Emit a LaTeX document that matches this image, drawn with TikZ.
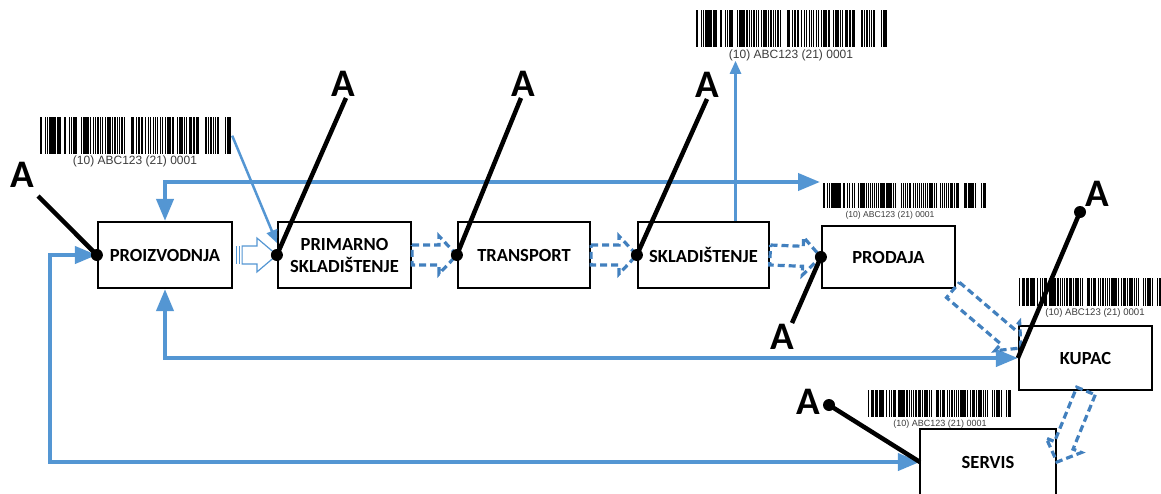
\documentclass[tikz,border=0pt]{standalone}
\usepackage{fontspec}
\setmainfont{Carlito}
\newfontfamily\arialf{Liberation Sans}
\usetikzlibrary{arrows.meta,calc}
\definecolor{lblue}{RGB}{84,150,211}
\definecolor{dblue}{RGB}{66,128,190}
\definecolor{bctext}{RGB}{60,60,60}

\newcommand\mkbarcode[5]{% name, cx, top y, width, height
  \node[minimum width=#4pt, minimum height=#5pt, inner sep=0pt, anchor=north] (#1) at (#2,#3) {};
  \pgfmathsetmacro\bcmod{#4/80}%
  \foreach \i in {0,...,79}{%
    \pgfmathtruncatemacro\hh{mod(mod(\i*\i,211)*53+\i*17+7,211)}%
    \pgfmathtruncatemacro\k{mod(\hh,4)}%
    \pgfmathtruncatemacro\s{mod(\hh,11)}%
    \ifnum\s>0
      \fill ($(#1.north west)+({\i*\bcmod},0)$) rectangle ++({\bcmod*(0.35+0.19*\k)},#5);
    \fi
  }
}
\newcommand\blockarrow[6][]{% style, from, to, shaft half, head half, head length
  \path let \p1=($(#3)-(#2)$) in \pgfextra{%
    \pgfmathparse{atan2(\y1,\x1)}\xdef\baAng{\pgfmathresult}%
    \pgfmathparse{veclen(\x1,\y1)}\xdef\baLen{\pgfmathresult}};
  \begin{scope}[shift={(#2)}, rotate=\baAng]
    \draw[#1] (0,-#4) -- ({\baLen-#6},-#4) -- ({\baLen-#6},-#5) -- (\baLen,0)
      -- ({\baLen-#6},#5) -- ({\baLen-#6},#4) -- (0,#4) -- cycle;
  \end{scope}}

\tikzset{
  box/.style={draw=black, line width=2.2pt, inner sep=0pt, align=center,
    font=\bfseries\fontsize{18.5}{22}\selectfont},
  letterA/.style={font=\bfseries\fontsize{39}{40}\selectfont, inner sep=0pt},
  rfid/.style={line width=4.5pt, black},
  dotc/.style={fill=black},
  bigarrow/.style={draw=lblue, line width=4pt,
    arrows={Triangle[length=22pt,width=17pt]-Triangle[length=22pt,width=17pt]}},
  thinarrow/.style={draw=lblue, line width=2.5pt, -{Triangle[length=13pt,width=11pt]}},
  dasharrow/.style={draw=dblue, line width=3.2pt, dash pattern=on 7pt off 4pt},
  hollow/.style={draw=lblue, fill=white, line width=1.2pt},
  bctxt/.style={font=\arialf, text=bctext, inner sep=0pt}
}

\begin{document}
\begin{tikzpicture}[x=1pt, y=-1pt]
\useasboundingbox (0,0) rectangle (1161,493);
\begin{scope}
\clip (0,0) rectangle (1161,493);

% barcodes
\mkbarcode{bc1}{136}{117}{192}{37}
\node[bctxt, font=\arialf\fontsize{12}{14}\selectfont] (bt1) at (135,161) {(10) ABC123 (21) 0001};
\mkbarcode{bc2}{792}{10}{192}{37}
\node[bctxt, font=\arialf\fontsize{12}{14}\selectfont] (bt2) at (791,55) {(10) ABC123 (21) 0001};
\mkbarcode{bc3}{905}{183}{164}{25}
\node[bctxt, font=\arialf\fontsize{8.6}{10}\selectfont] (bt3) at (890,215) {(10) ABC123 (21) 0001};
\mkbarcode{bc4}{1091}{278}{144}{28}
\node[bctxt, font=\arialf\fontsize{9.6}{11}\selectfont] (bt4) at (1095,313) {(10) ABC123 (21) 0001};
\mkbarcode{bc5}{940}{390}{144}{27}
\node[bctxt, font=\arialf\fontsize{9}{11}\selectfont] (bt5) at (940,424) {(10) ABC123 (21) 0001};

% boxes
\node[box, minimum width=134pt, minimum height=66pt] (proiz) at (165,255) {PROIZVODNJA};
\node[box, minimum width=133pt, minimum height=66pt] (prim) at (344.5,255) {PRIMARNO\\SKLADIŠTENJE};
\node[box, minimum width=132pt, minimum height=66pt] (trans) at (524,255) {TRANSPORT};
\node[box, minimum width=131pt, minimum height=66pt] (sklad) at (703.5,255) {SKLADIŠTENJE};
\node[box, minimum width=133pt, minimum height=62pt] (prod) at (888.5,257) {PRODAJA};
\node[box, minimum width=133pt, minimum height=64pt] (kupac) at (1085.5,358) {KUPAC};
\node[box, draw=none, minimum width=134pt, minimum height=64pt] (servis) at (988,462) {SERVIS};
\draw[line width=2.2pt] (servis.south west) |- (servis.north east) -- (servis.south east);

% blue loops
\coordinate (topend) at (820,182);
\draw[bigarrow] (topend) -| (proiz.north);
\draw[bigarrow] (kupac.west) -| (proiz.south);
\coordinate (sl) at (50,350);
\draw[bigarrow] (servis.west) -| (sl) |- (proiz.west);

% thin arrows to / from barcodes
\draw[thinarrow] (bc1.east) -- ($(prim.west)+(0,-12)$);
\coordinate (s2) at ($(sklad.north)+(32,0)$);
\draw[thinarrow] (s2) -- (s2 |- bt2.south);

% hollow striped arrow
\draw[hollow] ($(proiz.east)+(3,-9)$) -- ++(0,18);
\draw[hollow] ($(proiz.east)+(6,-9)$) -- ++(0,18);
\blockarrow[hollow]{$(proiz.east)+(9,0)$}{prim.west}{9}{17}{20}

% dashed block arrows
\blockarrow[dasharrow]{prim.east}{trans.west}{10}{19}{18}
\blockarrow[dasharrow]{trans.east}{sklad.west}{10}{19}{18}
\blockarrow[dasharrow]{sklad.east}{prod.west}{10}{19}{18}
\coordinate (pk1) at (953,290);
\coordinate (pk2) at (1021,348);
\blockarrow[dasharrow]{pk1}{pk2}{10}{19}{18}
\coordinate (ks1) at (1086,391);
\coordinate (ks2) at (1057,462);
\blockarrow[dasharrow]{ks1}{ks2}{10}{19}{18}

% RFID readers
\node[letterA] (la1) at (22,175) {A};
\coordinate (r1) at (38,196);
\draw[rfid] (r1) -- (proiz.west);
\fill[dotc] (proiz.west) circle[radius=6pt];

\node[letterA] (la2) at (343,84) {A};
\coordinate (r2) at (346,98);
\draw[rfid] (r2) -- (prim.west);
\fill[dotc] (prim.west) circle[radius=6pt];

\node[letterA] (la3) at (523,84) {A};
\coordinate (r3) at (521,98);
\draw[rfid] (r3) -- (trans.west);
\fill[dotc] (trans.west) circle[radius=6pt];

\node[letterA] (la4) at (707,85) {A};
\coordinate (r4) at (707,99);
\draw[rfid] (r4) -- (sklad.west);
\fill[dotc] (sklad.west) circle[radius=6pt];

\node[letterA] (la5) at (782,337) {A};
\coordinate (r5) at (792,323);
\draw[rfid] (r5) -- (prod.west);
\fill[dotc] (prod.west) circle[radius=6pt];

\node[letterA] (la6) at (1097,194) {A};
\coordinate (r6) at (1080,212);
\draw[rfid] (r6) -- (kupac.west);
\fill[dotc] (r6) circle[radius=6pt];

\node[letterA] (la7) at (808,402) {A};
\coordinate (r7) at (829,405);
\draw[rfid] (r7) -- (servis.west);
\fill[dotc] (r7) circle[radius=6pt];
\end{scope}
\end{tikzpicture}
\end{document}
